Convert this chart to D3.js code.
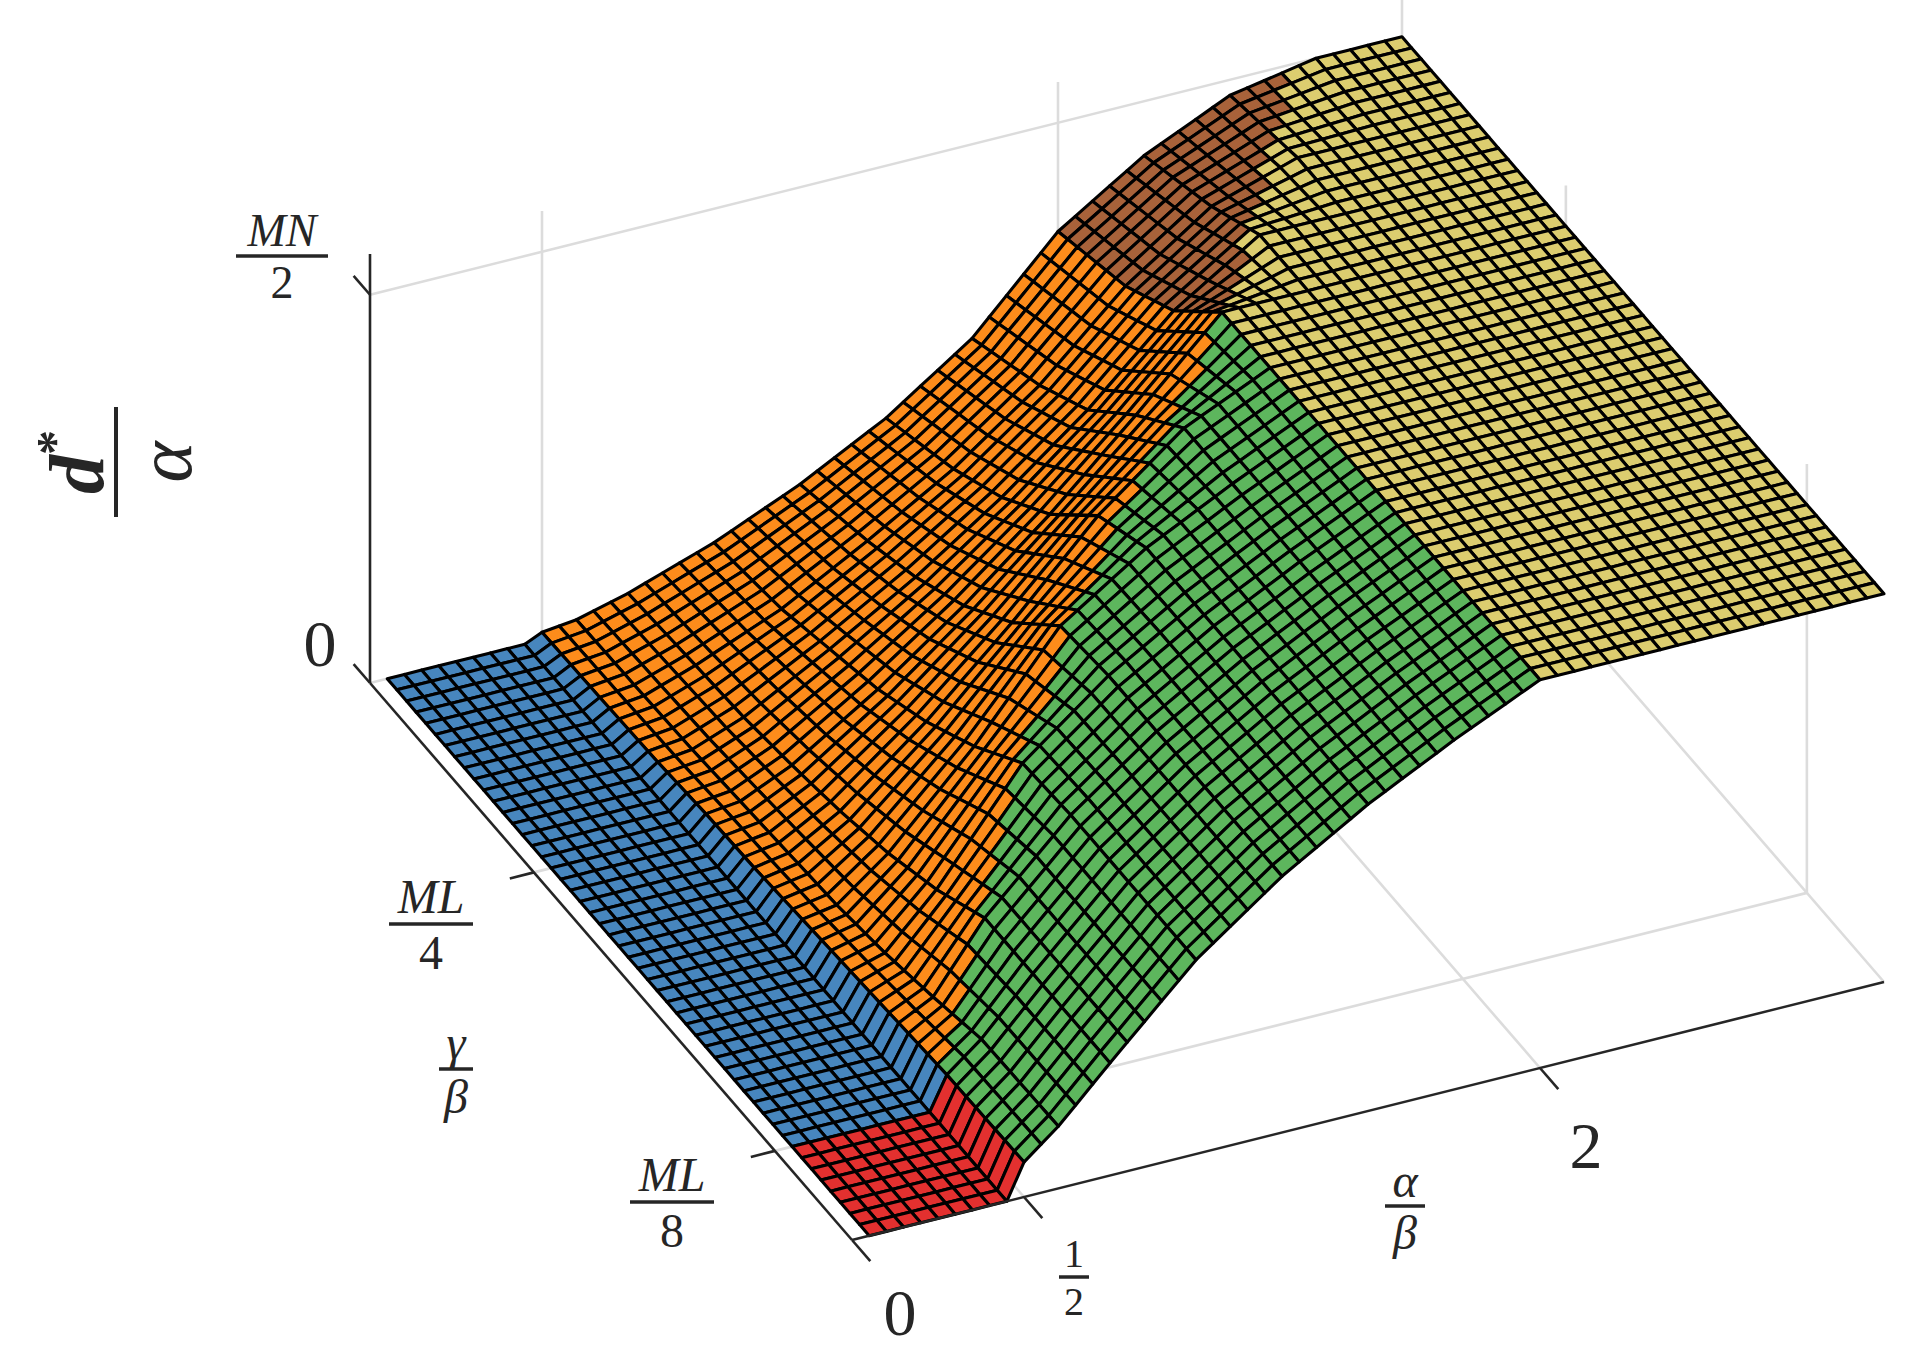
<!DOCTYPE html>
<html><head><meta charset="utf-8">
<script src="https://cdn.jsdelivr.net/npm/d3@7"></script>
<style>body{margin:0;background:#fff}svg{display:block}</style>
</head><body>
<svg id="c" width="1920" height="1359"></svg>
<script>
// ---- data ----
// height knots: x = alpha/beta, y = gamma/beta (in units of ML), z = d*/alpha (in units of MN/2)
const knotX = [0.05,0.45,0.5,0.6,0.75,1.0,1.25,1.5,1.75,2.0,2.25,2.5,2.75,3.0];
const knotY = [0.085,0.125,0.15,0.175,0.2,0.225,0.25,0.275,0.3,0.335];
const zRow085 = [0,0,0.09,0.16,0.29,0.50,0.66,0.79,0.90,1,1,1,1,1];
const zRow125 = [0,0,0.085,0.155,0.29,0.50,0.66,0.79,0.90,1,1,1,1,1];
const zRow150 = [0,0,0.075,0.12,0.29,0.50,0.66,0.79,0.90,1,1,1,1,1];
const zRow175 = [0,0,0.065,0.09,0.22,0.49,0.66,0.79,0.90,1,1,1,1,1];
const zRow200 = [0,0,0.055,0.07,0.17,0.39,0.645,0.79,0.90,1,1,1,1,1];
const zRow225 = [0,0,0.045,0.06,0.135,0.31,0.51,0.73,0.90,1,1,1,1,1];
const zRow250 = [0,0,0.04,0.05,0.11,0.25,0.41,0.59,0.79,1,1,1,1,1];
const zRow275 = [0,0,0.03,0.04,0.09,0.21,0.34,0.49,0.66,0.86,1,1,1,1];
const zRow300 = [0,0,0.025,0.035,0.08,0.17,0.29,0.42,0.58,0.78,0.93,1,1,1];
const zRow335 = [0,0,0.02,0.03,0.065,0.14,0.235,0.35,0.50,0.72,0.86,0.96,1,1];
const zTable = [zRow085,zRow125,zRow150,zRow175,zRow200,zRow225,zRow250,zRow275,zRow300,zRow335];
// region boundaries
const redBlueY = 0.125;           // gamma/beta = ML/8
const leftRegionX = 0.5;          // alpha/beta = 1/2
const greenOrangeX = [0.5,0.75,1.0,1.25,1.5,1.75,2.0];
const greenOrangeY = [0.125,0.153,0.177,0.198,0.2165,0.234,0.25];
const rightRegionX = 2.0;
const brownYellowY = [0.25,0.335];
const brownYellowX = [2.0,2.68];
const regionColors = {red:"#e3302f", blue:"#4786be", orange:"#fd8c1b", green:"#5db65d", brown:"#a8623a", yellow:"#dccd6f"};
// mesh spacing
const meshX0 = 0.05, meshX1 = 3.0, meshDX = 0.05;
const meshY0 = 0.085, meshY1 = 0.335, meshDY = 0.005;
// axes
const xDomain = [0,3], yDomain = [0.085,0.335], zDomain = [0,1.105];
const xTicks = [0,0.5,2], yTicks = [0.125,0.25], zTicks = [0,1];

// ---- projection via d3 scales ----
const fx = d3.scaleLinear().domain(xDomain).range([0,1]);
const fy = d3.scaleLinear().domain(yDomain).range([0,1]);
const fz = d3.scaleLinear().domain(zDomain).range([0,1]);
const O=[852,1240], EX=[1032,-258], EY=[-482,-557], EZ=[0,-429];
function P(x,y,z){const a=fx(x),b=fy(y),c=fz(z);
  return [O[0]+a*EX[0]+b*EY[0]+c*EZ[0], O[1]+a*EX[1]+b*EY[1]+c*EZ[1]];}

function interp1(xs,ys,x){
  if(x<=xs[0])return ys[0]; if(x>=xs[xs.length-1])return ys[ys.length-1];
  const i=d3.bisectRight(xs,x)-1; const t=(x-xs[i])/(xs[i+1]-xs[i]); return ys[i]+t*(ys[i+1]-ys[i]);}
function Zat(x,y){
  const col = zTable.map(r=>interp1(knotX,r,x));
  return interp1(knotY,col,y);}
function region(x,y){
  if(x<leftRegionX) return y<redBlueY?"red":"blue";
  if(x<rightRegionX) return y<interp1(greenOrangeX,greenOrangeY,x)?"green":"orange";
  if(y<brownYellowY[0]) return "yellow";
  return x<interp1(brownYellowY,brownYellowX,y)?"brown":"yellow";}

const svg=d3.select("#c");
const line=d3.line();
// ---- grid lines ----
const gGrid=svg.append("g").attr("stroke","#dcdcdc").attr("stroke-width",2.6).attr("fill","none");
const yT=yDomain[1], zT=zDomain[1];
const gridSegs=[
  [[0,yT,0],[3,yT,0]], [[0,yT,1],[3,yT,1]],
  [[0.5,yT,0],[0.5,yT,zT]], [[2,yT,0],[2,yT,zT]],
  [[3,yDomain[0],0],[3,yT,0]], [[3,yDomain[0],1],[3,yT,1]],
  [[3,0.125,0],[3,0.125,zT]], [[3,0.25,0],[3,0.25,zT]], [[3,yT,0],[3,yT,zT]],
  [[0.5,yDomain[0],0],[0.5,yT,0]], [[2,yDomain[0],0],[2,yT,0]],
  [[0,0.125,0],[3,0.125,0]], [[0,0.25,0],[3,0.25,0]]
];
gridSegs.forEach(s=>gGrid.append("path").attr("d",line(s.map(p=>P(...p)))));

// ---- surface ----
const xs=d3.range(Math.round((meshX1-meshX0)/meshDX)+1).map(i=>meshX0+i*meshDX);
const ys=d3.range(Math.round((meshY1-meshY0)/meshDY)+1).map(i=>meshY0+i*meshDY);
const cells=[];
for(let i=0;i<xs.length-1;i++)for(let j=0;j<ys.length-1;j++){
  const x0=xs[i],x1=xs[i+1],y0=ys[j],y1=ys[j+1];
  const pts=[[x0,y0],[x1,y0],[x1,y1],[x0,y1]].map(([x,y])=>P(x,y,Zat(x,y)));
  const fc=P((x0+x1)/2,(y0+y1)/2,0);
  cells.push({pts,col:regionColors[region((x0+x1)/2,(y0+y1)/2)],key:fc[1]});
}
cells.sort((a,b)=>a.key-b.key);
svg.append("g").selectAll("path").data(cells).join("path")
  .attr("d",d=>line(d.pts)+"Z").attr("fill",d=>d.col)
  .attr("stroke","#000").attr("stroke-width",3.1).attr("stroke-linejoin","round");

// ---- axes ----
const gAx=svg.append("g").attr("stroke","#262626").attr("stroke-width",2.6).attr("fill","none");
gAx.append("path").attr("d",line([P(0,yDomain[0],0),P(3,yDomain[0],0)]));
gAx.append("path").attr("d",line([P(0,yDomain[0],0),P(0,yT,0)]));
gAx.append("path").attr("d",line([P(0,yT,0),P(0,yT,zT)]));
xTicks.forEach(t=>gAx.append("path").attr("d",line([P(t,yDomain[0],0),P(t,yDomain[0]-0.0095,0)])));
yTicks.forEach(t=>gAx.append("path").attr("d",line([P(0,t,0),P(-0.07,t,0)])));
zTicks.forEach(t=>gAx.append("path").attr("d",line([P(0,yT,t),P(0,yT+0.0085,t)])));

// ---- labels ----
const F="'Liberation Serif','DejaVu Serif',serif";
function txt(x,y,s,size,italic){return svg.append("text").attr("x",x).attr("y",y).attr("text-anchor","middle")
  .attr("dominant-baseline","central").attr("font-family",F).attr("font-size",size)
  .attr("font-style",italic?"italic":"normal").attr("fill","#262626").text(s);}
function frac(cx,by,num,den,size,w,gap,ni,di){
  txt(cx,by-gap,num,size,ni); txt(cx,by+gap,den,size,di);
  svg.append("line").attr("x1",cx-w/2).attr("x2",cx+w/2).attr("y1",by).attr("y2",by).attr("stroke","#262626").attr("stroke-width",3.5);}
txt(900,1312,"0",66,false);
frac(1074,1277,"1","2",40,30,24,false,false);
txt(1586,1145,"2",66,false);
frac(1405,1206,"α","β",48,40,26,true,true);
frac(672,1202,"ML","8",48,84,28,true,false);
frac(431,924,"ML","4",48,84,28,true,false);
frac(456,1069,"γ","β",48,34,27,true,true);
txt(320,643,"0",66,false);
frac(282,256,"MN","2",46,92,26,true,false);
// z label rotated
const gz=svg.append("g").attr("transform","translate(116,462) rotate(-90)");
gz.append("text").attr("x",0).attr("y",-40).attr("text-anchor","middle").attr("dominant-baseline","central")
  .attr("font-family",F).attr("font-size",78).attr("font-style","italic").attr("font-weight","bold").attr("fill","#262626")
  .html('d<tspan dy="-22" font-size="50" font-style="normal">*</tspan>');
gz.append("text").attr("x",0).attr("y",48).attr("text-anchor","middle").attr("dominant-baseline","central")
  .attr("font-family",F).attr("font-size",78).attr("font-style","italic").attr("fill","#262626").text("α");
gz.append("line").attr("x1",-55).attr("x2",55).attr("y1",0).attr("y2",0).attr("stroke","#262626").attr("stroke-width",4);
</script></body></html>
